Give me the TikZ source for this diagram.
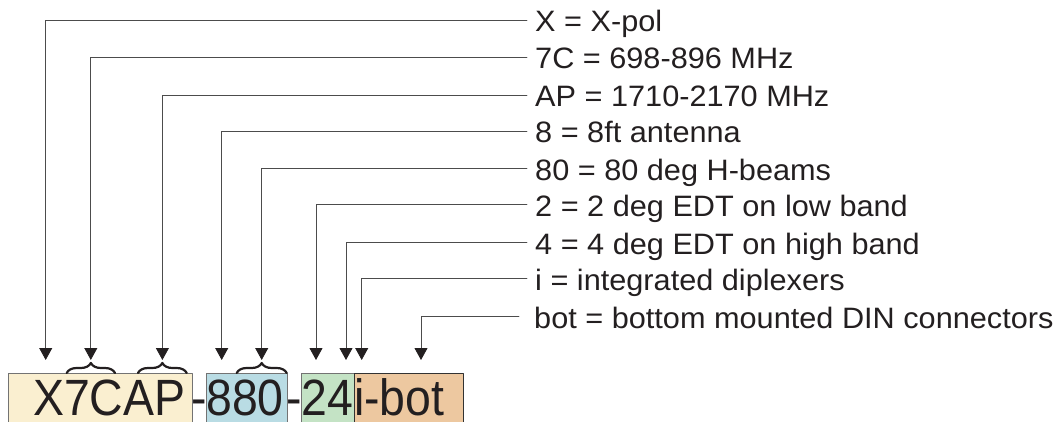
\documentclass[tikz,border=0pt]{standalone}
\usepackage{fontspec}
\setmainfont{Liberation Sans}
\newfontfamily\codefont[FakeStretch=0.91]{Liberation Sans}
\newfontfamily\keyfont[FakeStretch=1.04]{Liberation Sans}
\usetikzlibrary{arrows.meta,decorations.pathreplacing}
\definecolor{ink}{HTML}{231F20}
\definecolor{cream}{HTML}{FAEFD0}
\definecolor{paleblue}{HTML}{B9DCE4}
\definecolor{palegreen}{HTML}{C4E3C5}
\definecolor{bandtan}{HTML}{EDC8A0}
\tikzset{
 keylabel/.style={anchor=west, inner xsep=8pt, inner ysep=0pt, text height=23.4pt, text depth=0pt, text=ink, font=\keyfont\fontsize{29.5}{30}\selectfont},
 codebox/.style={draw=black!55, line width=0.8pt, anchor=north west, minimum height=60pt, inner sep=0pt},
 codetext/.style={anchor=base west, inner sep=0pt, text=ink, font=\codefont\fontsize{51}{51}\selectfont},
 pointer/.style={draw=black!70, line width=0.8pt, -{Triangle[width=13pt,length=12pt,color=ink]}},
 curly/.style={decorate, decoration={brace, amplitude=10pt}, line width=2.2pt, draw=ink}
}
\begin{document}
\begin{tikzpicture}[x=1pt,y=-1pt,line cap=round,line join=round]
 \useasboundingbox (0,0) rectangle (1056,422);
 \clip (0,0) rectangle (1056,422);
 % coloured part number
 \node[codebox, fill=cream, minimum width=183.4pt] (boxA) at (8.3,372.7) {};
 \node[codebox, fill=paleblue, minimum width=81.3pt] (boxB) at (206,372.7) {};
 \node[codebox, fill=palegreen, minimum width=53.3pt] (boxC) at (301,372.7) {};
 \node[codebox, fill=bandtan, draw=black!80, minimum width=108.7pt] (boxD) at (354,372.7) {};
 \node[codetext] (cA) at (33,415.5) {X7CAP};
 \node[codetext, anchor=base] (dash1) at (198.9,415.5) {-};
 \node[codetext] (cB) at (206,415.5) {880};
 \node[codetext, anchor=base] (dash2) at (294,415.5) {-};
 \node[codetext] (cC) at (301,415.5) {24};
 \node[codetext] (cD) at (354,415.5) {i-bot};
 \draw[curly] (66.7,373) -- (115,373);
 \draw[curly] (138,373) -- (186.7,373);
 \draw[curly] (236.7,373) -- (286.7,373);
 % arrow ends
 \coordinate (aX) at (45.7,360);
 \coordinate (a7C) at (90.8,360);
 \coordinate (aAP) at (162.4,360);
 \coordinate (a8) at (221.7,360);
 \coordinate (a80) at (261.7,360);
 \coordinate (a2) at (316,360);
 \coordinate (a4) at (346,360);
 \coordinate (ai) at (361.7,360);
 \coordinate (abot) at (421,360);
 % key
 \node[keylabel] (kX) at (527,20) {X = X-pol};
 \node[keylabel] (k7C) at (527,57) {7C = 698-896 MHz};
 \node[keylabel] (kAP) at (527,95) {AP = 1710-2170 MHz};
 \node[keylabel] (k8) at (527,131) {8 = 8ft antenna};
 \node[keylabel] (k80) at (527,168.3) {80 = 80 deg H-beams};
 \node[keylabel] (k2) at (527,204.3) {2 = 2 deg EDT on low band};
 \node[keylabel] (k4) at (527,242.7) {4 = 4 deg EDT on high band};
 \node[keylabel] (ki) at (527,278.3) {i = integrated diplexers};
 \node[keylabel] (kbot) at (526,316.7) {bot = bottom mounted DIN connectors};
 \draw[pointer] (kX.west) -| (aX);
 \draw[pointer] (k7C.west) -| (a7C);
 \draw[pointer] (kAP.west) -| (aAP);
 \draw[pointer] (k8.west) -| (a8);
 \draw[pointer] (k80.west) -| (a80);
 \draw[pointer] (k2.west) -| (a2);
 \draw[pointer] (k4.west) -| (a4);
 \draw[pointer] (ki.west) -| (ai);
 \draw[pointer, shorten <=7pt] (kbot.west) -| (abot);
\end{tikzpicture}
\end{document}
